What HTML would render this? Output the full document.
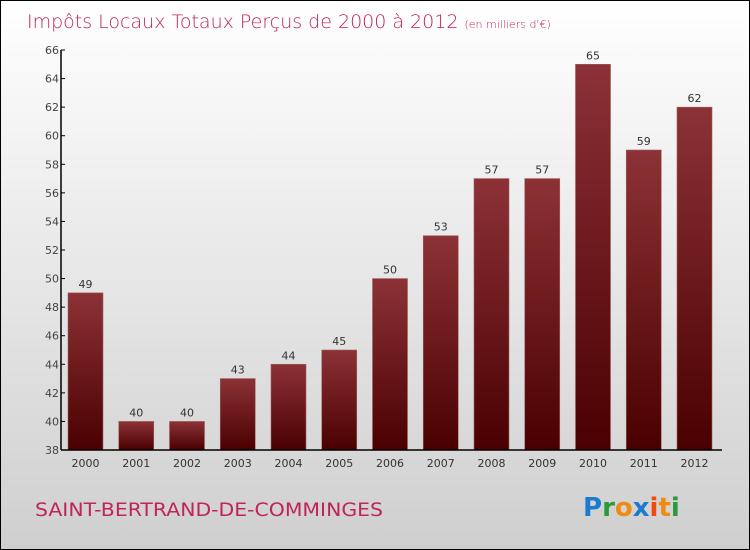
<!DOCTYPE html>
<html><head><meta charset="utf-8"><style>
body{margin:0}
#wrap{width:748px;height:548px;border:1px solid #000;background:linear-gradient(#ffffff,#cfcfcf);position:relative;overflow:hidden;font-family:"DejaVu Sans","Liberation Sans",sans-serif}
</style></head><body>
<div id="wrap">
<svg id="c" width="748" height="548">
<defs><linearGradient id="g" x1="0" y1="0" x2="0" y2="1"><stop offset="0" stop-color="#8c3237"/><stop offset="1" stop-color="#4a0000"/></linearGradient></defs>
<text x="26" y="27" font-size="19" fill="#c0245a" font-family="DejaVu Sans,sans-serif" font-weight="200">Impôts Locaux Totaux Perçus de 2000 à 2012 <tspan font-size="11">(en milliers d'€)</tspan></text>
<text x="34" y="515" font-size="19" fill="#c0245a" font-family="DejaVu Sans,sans-serif" textLength="348" lengthAdjust="spacingAndGlyphs">SAINT-BERTRAND-DE-COMMINGES</text>
<g font-size="26" font-weight="bold" font-family="DejaVu Sans,sans-serif">
<text x="582" y="515"><tspan fill="#1a7bd0">P</tspan><tspan fill="#2a9a3a">r</tspan><tspan fill="#f08a10">o</tspan><tspan fill="#1a7bd0">x</tspan><tspan fill="#f04a10">i</tspan><tspan fill="#f08a10">t</tspan><tspan fill="#2a9a3a">i</tspan></text></g>
<g id="plot"></g>
</svg>
</div>
<script>
const years=["2000","2001","2002","2003","2004","2005","2006","2007","2008","2009","2010","2011","2012"];
const values=[49,40,40,43,44,45,50,53,57,57,65,59,62];
const yTicks=[38,40,42,44,46,48,50,52,54,56,58,60,62,64,66];
const ns="http://www.w3.org/2000/svg";
const g=document.getElementById('plot');
const y=v=>449-(v-38)*400/28;
const x=i=>84.5+i*50.75;
function mk(t,a,p){const e=document.createElementNS(ns,t);for(const k in a)e.setAttribute(k,a[k]);(p||g).appendChild(e);return e;}
values.forEach((v,i)=>{
const r=mk('rect',{x:x(i)-17.5,y:y(v),width:35,height:449-y(v),fill:'url(#g)',stroke:'#a06060','stroke-width':0.6});


const t=mk('text',{x:x(i),y:y(v)-5,'text-anchor':'middle','font-size':11,fill:'#333'});
t.textContent=v;


const xl=mk('text',{x:x(i),y:466,'text-anchor':'middle','font-size':11,fill:'#333'});
xl.textContent=years[i];


});
yTicks.forEach(v=>{
mk('line',{x1:60,x2:64,y1:y(v),y2:y(v),stroke:'#000'});
const t=mk('text',{x:58,y:y(v)+4,'text-anchor':'end','font-size':11,fill:'#444'});
t.textContent=v;


});
const ya=mk('line',{x1:60,x2:60,y1:y(66),y2:449,stroke:'#000','stroke-width':1.5});


const xa=mk('line',{x1:60,x2:721,y1:449,y2:449,stroke:'#000','stroke-width':1.5});


</script>
</body></html>
